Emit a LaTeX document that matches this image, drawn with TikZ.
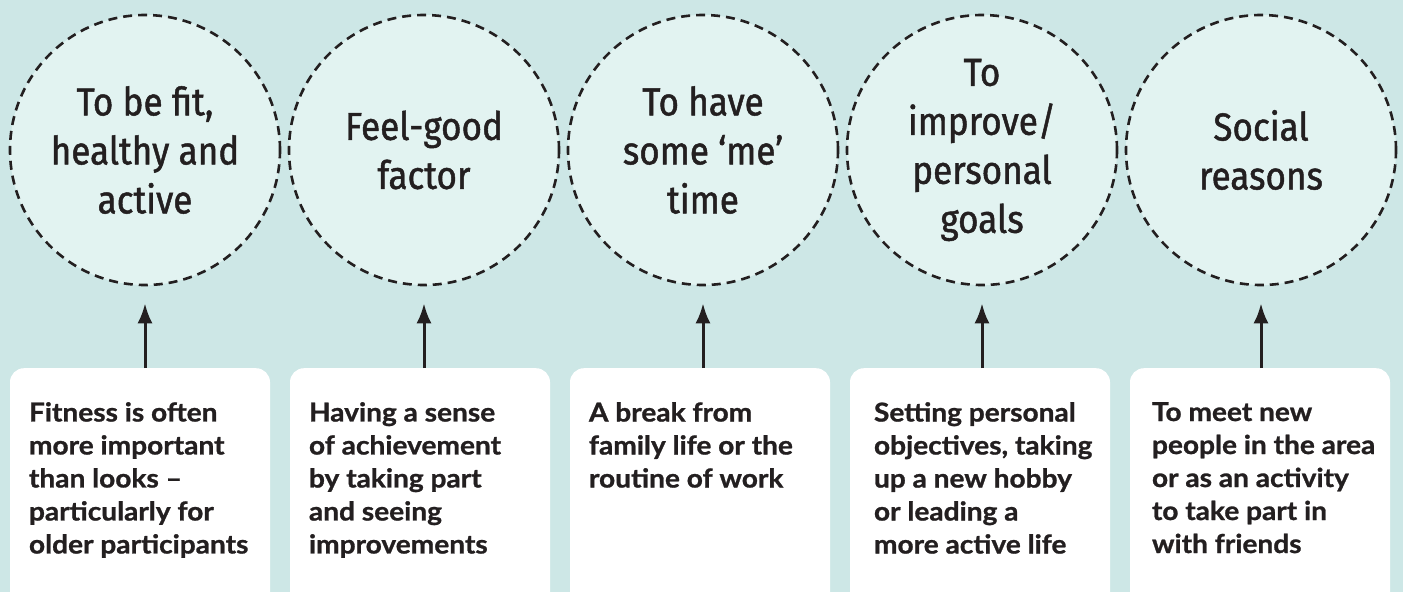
\documentclass[tikz,border=0pt]{standalone}
\usepackage{fontspec}
\usetikzlibrary{arrows.meta}
\newfontfamily\circfont[FakeStretch=0.9, FakeBold=1.2]{Fira Sans}
\newfontfamily\boxfont[FakeStretch=1.08, BoldFeatures={FakeBold=1.0}]{Lato}[BoldFont={Lato Bold}]
\definecolor{bgteal}{HTML}{CDE7E6}
\definecolor{circfill}{HTML}{E2F3F1}
\definecolor{inkdark}{HTML}{231F20}
\tikzset{
  x=1pt, y=-1pt,
  goal/.style={circle, draw=inkdark, fill=circfill, line width=2.6pt,
    dash pattern=on 9pt off 6pt, minimum size=270pt, inner sep=0pt,
    align=center, text=inkdark, font=\circfont\fontsize{39}{49}\selectfont},
  card/.style={rectangle, rounded corners=14pt, fill=white, draw=none,
    minimum width=260pt, minimum height=250pt, anchor=north, inner sep=0pt},
  cardtext/.style={anchor=north west, align=left, inner sep=0pt, text=inkdark,
    font=\boxfont\bfseries\fontsize{26}{33}\selectfont},
  link/.style={draw=inkdark, line width=3pt,
    -{Latex[length=20pt,width=15pt]}, shorten >=17pt}
}
\begin{document}
\begin{tikzpicture}
\useasboundingbox (0,0) rectangle (1403,592);
\fill[bgteal] (0,0) rectangle (1403,592);

% reason circles
\node[goal] (c1) at (145,150) {To be fit,\\healthy and\\active};
\node[goal] (c2) at (424,150) {Feel-good\\factor};
\node[goal] (c3) at (703,150) {To have\\some ‘me’\\time};
\node[goal] (c4) at (982,150) {To\\improve/\\personal\\goals};
\node[goal] (c5) at (1261,150) {Social\\reasons};

% explanation cards
\node[card] (b1) at (140,368) {};
\node[card] (b2) at (420,368) {};
\node[card] (b3) at (700,368) {};
\node[card] (b4) at (980,368) {};
\node[card] (b5) at (1260,368) {};

\node[cardtext] (t1) at ([shift={(19,34)}]b1.north west)
  {Fitness is often\\more important\\than looks –\\particularly for\\older participants};
\node[cardtext] (t2) at ([shift={(19,34)}]b2.north west)
  {Having a sense\\of achievement\\by taking part\\and seeing\\improvements};
\node[cardtext] (t3) at ([shift={(19,34)}]b3.north west)
  {A break from\\family life or the\\routine of work};
\node[cardtext] (t4) at ([shift={(24,34)}]b4.north west)
  {Setting personal\\objectives, taking\\up a new hobby\\or leading a\\more active life};
\node[cardtext] (t5) at ([shift={(22,34)}]b5.north west)
  {To meet new\\people in the area\\or as an activity\\to take part in\\with friends};

% arrows from cards up to circles
\foreach \i in {1,...,5} {
  \draw[link] (b\i.north -| c\i.south) -- (c\i.south);
}
\end{tikzpicture}
\end{document}
